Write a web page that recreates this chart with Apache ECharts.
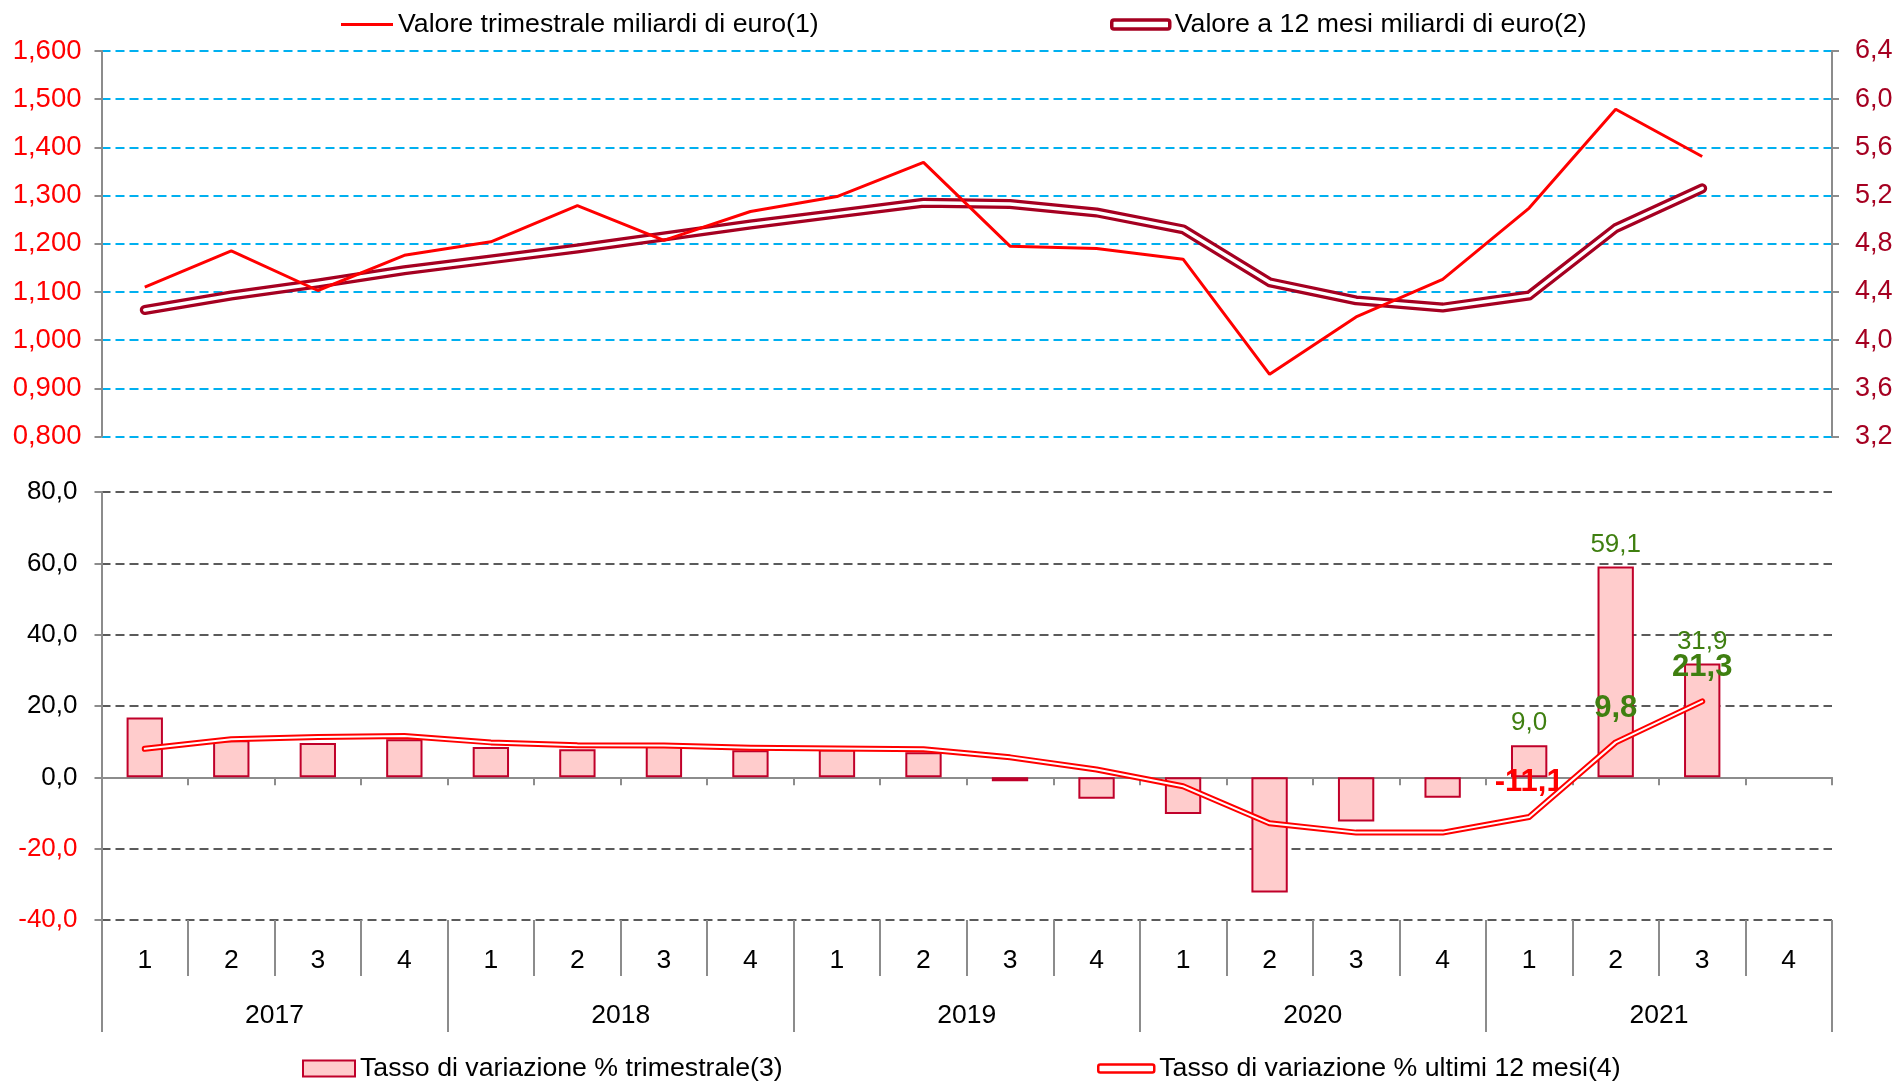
<!DOCTYPE html>
<html>
<head>
<meta charset="utf-8">
<title>Valore e tasso di variazione</title>
<script src="https://cdn.jsdelivr.net/npm/echarts@6/dist/echarts.min.js"></script>
<style>
  html, body { margin: 0; padding: 0; background: #fff; }
  #main { width: 1895px; height: 1082px; }
</style>
</head>
<body>
<div id="main"></div>
<script>
// quarters 2017Q1 .. 2021Q4
var quarters = ['1', '2', '3', '4', '1', '2', '3', '4', '1', '2', '3', '4', '1', '2', '3', '4', '1', '2', '3', '4'];
var years = ['2017', '2018', '2019', '2020', '2021'];

// top chart (miliardi di euro)
var valoreTrim = [1.110, 1.185, 1.103, 1.176, 1.204, 1.279, 1.207, 1.267, 1.298, 1.369,
  1.195, 1.190, 1.168, 0.929, 1.048, 1.126, 1.274, 1.479, 1.381, null];
var valore12 = [4.25, 4.37, 4.47, 4.58, 4.67, 4.76, 4.86, 4.96, 5.05, 5.14,
  5.13, 5.06, 4.92, 4.48, 4.33, 4.27, 4.37, 4.93, 5.26, null];

// bottom chart (%)
var tassoTrim = [16.8, 10.4, 9.6, 10.7, 8.5, 7.9, 9.3, 7.6, 7.8, 7.0,
  -1.1, -6.0, -10.3, -32.3, -12.4, -5.7, 9.0, 59.1, 31.9, null];
var tasso12 = [8.0, 10.7, 11.3, 11.6, 9.8, 9.0, 8.9, 8.3, 8.1, 7.9,
  5.6, 2.2, -2.5, -12.9, -15.5, -15.5, -11.1, 9.8, 21.3, null];

// which points carry a value label
var barLabelIdx = [16, 17, 18];
var lineLabelIdx = [16, 17, 18];

var nameTrim = 'Valore trimestrale miliardi di euro(1)';
var name12 = 'Valore a 12 mesi miliardi di euro(2)';
var nameTassoTrim = 'Tasso di variazione % trimestrale(3)';
var nameTasso12 = 'Tasso di variazione % ultimi 12 mesi(4)';

var GREEN = '#3f7f10';
var AXIS_GRAY = '#8c8c8c';

function comma(v, d) {
  return Number(v).toFixed(d).replace('.', ',');
}

var barData = tassoTrim.map(function (v, i) {
  return barLabelIdx.indexOf(i) >= 0 ? { value: v, label: { show: true } } : v;
});
var lineData = tasso12.map(function (v, i) {
  if (lineLabelIdx.indexOf(i) < 0) return v;
  return { value: v, label: { show: true, color: v < 0 ? '#ff0000' : GREEN } };
});

var myChart = echarts.init(document.getElementById('main'));

var option = {
  animation: false,
  textStyle: { fontFamily: 'Liberation Sans, Arial, sans-serif' },
  grid: [
    { left: 101.5, right: 63, top: 51, height: 385.5, outerBoundsMode: 'none' },
    { left: 101.5, right: 63, top: 492, height: 428, outerBoundsMode: 'none' }
  ],
  legend: [
    {
      left: 341, top: 11, padding: 0, selectedMode: false,
      itemWidth: 52, itemHeight: 3, itemGap: 6,
      textStyle: { fontSize: 26.7, color: '#000' },
      data: [{ name: nameTrim, icon: 'rect', itemStyle: { color: '#ff0000' } }]
    },
    {
      left: 1110, top: 11, padding: 0, selectedMode: false,
      itemWidth: 58, itemHeight: 9,
      textStyle: { fontSize: 26.7, color: '#000' },
      data: [{ name: name12, icon: 'roundRect',
        itemStyle: { color: '#fff', borderColor: '#a50021', borderWidth: 3.5 } }]
    },
    {
      left: 302, top: 1055, padding: 0, selectedMode: false,
      itemWidth: 52, itemHeight: 16,
      textStyle: { fontSize: 26.7, color: '#000' },
      data: [{ name: nameTassoTrim, icon: 'rect',
        itemStyle: { color: '#ffcccc', borderColor: '#c0002a', borderWidth: 2 } }]
    },
    {
      left: 1097, top: 1055, padding: 0, selectedMode: false,
      itemWidth: 56, itemHeight: 8,
      textStyle: { fontSize: 26.7, color: '#000' },
      data: [{ name: nameTasso12, icon: 'roundRect',
        itemStyle: { color: '#fff', borderColor: '#ff0000', borderWidth: 2.5 } }]
    }
  ],
  xAxis: [
    { gridIndex: 0, type: 'category', data: quarters, show: false },
    {
      // zero line with small ticks
      gridIndex: 1, type: 'category', data: quarters, position: 'bottom',
      axisLine: { onZero: true, lineStyle: { color: AXIS_GRAY, width: 2 } },
      axisTick: { show: true, interval: 0, length: 8, lineStyle: { color: AXIS_GRAY, width: 2 } },
      axisLabel: { show: false }
    },
    {
      // quarter labels below the chart
      gridIndex: 1, type: 'category', data: quarters, position: 'bottom',
      axisLine: { show: false, onZero: false },
      axisTick: { show: true, interval: 0, length: 56, lineStyle: { color: AXIS_GRAY, width: 2 } },
      axisLabel: { interval: 0, margin: 27, fontSize: 26.5, color: '#000' }
    },
    {
      // years
      gridIndex: 1, type: 'category', data: years, position: 'bottom',
      axisLine: { show: false, onZero: false },
      axisTick: { show: true, interval: 0, length: 112, lineStyle: { color: AXIS_GRAY, width: 2 } },
      axisLabel: { interval: 0, margin: 82, fontSize: 26.5, color: '#000' }
    }
  ],
  yAxis: [
    {
      gridIndex: 0, type: 'value', position: 'left', min: 0.8, max: 1.6, interval: 0.1,
      axisLine: { show: true, lineStyle: { color: AXIS_GRAY, width: 2 } },
      axisTick: { show: true, length: 7, lineStyle: { color: AXIS_GRAY, width: 2 } },
      axisLabel: { color: '#ff0000', fontSize: 27.5, margin: 20,
        formatter: function (v) { return comma(v, 3); } },
      splitLine: { show: true, lineStyle: { color: '#00b0f0', width: 2, type: [9, 5] } }
    },
    {
      gridIndex: 0, type: 'value', position: 'right', min: 3.2, max: 6.4, interval: 0.4,
      axisLine: { show: true, lineStyle: { color: AXIS_GRAY, width: 2 } },
      axisTick: { show: true, length: 7, lineStyle: { color: AXIS_GRAY, width: 2 } },
      axisLabel: { color: '#a50021', fontSize: 27, margin: 23,
        formatter: function (v) { return comma(v, 1); } },
      splitLine: { show: false }
    },
    {
      gridIndex: 1, type: 'value', position: 'left', min: -40, max: 80, interval: 20,
      axisLine: { show: true, lineStyle: { color: AXIS_GRAY, width: 2 } },
      axisTick: { show: true, length: 7, lineStyle: { color: AXIS_GRAY, width: 2 } },
      axisLabel: { fontSize: 26, margin: 24,
        color: function (v) { return parseFloat(v) < 0 ? '#ff0000' : '#000'; },
        formatter: function (v) { return comma(v, 1); } },
      splitLine: { show: true, lineStyle: { color: '#5a5a5a', width: 2, type: [9, 5] } }
    }
  ],
  series: [
    {
      name: name12, type: 'line', xAxisIndex: 0, yAxisIndex: 1, z: 2,
      data: valore12, showSymbol: false,
      lineStyle: { color: '#a50021', width: 10, cap: 'round', join: 'round' },
      itemStyle: { color: '#a50021' }
    },
    {
      name: name12 + ' ', type: 'line', xAxisIndex: 0, yAxisIndex: 1, z: 3,
      data: valore12, showSymbol: false, silent: true,
      lineStyle: { color: '#fff', width: 3.5, cap: 'round', join: 'round' }
    },
    {
      name: nameTrim, type: 'line', xAxisIndex: 0, yAxisIndex: 0, z: 4,
      data: valoreTrim, showSymbol: false,
      lineStyle: { color: '#ff0000', width: 3 },
      itemStyle: { color: '#ff0000' }
    },
    {
      name: nameTassoTrim, type: 'bar', xAxisIndex: 1, yAxisIndex: 2, z: 2,
      data: barData, barWidth: '42%',
      itemStyle: { color: '#ffcccc', borderColor: '#c0002a', borderWidth: 2 },
      label: { show: false, position: 'top', distance: 9, color: GREEN, fontSize: 26,
        formatter: function (p) { return comma(p.value, 1); } }
    },
    {
      name: nameTasso12, type: 'line', xAxisIndex: 1, yAxisIndex: 2, z: 3,
      data: lineData, showSymbol: true, symbol: 'circle', symbolSize: 1,
      lineStyle: { color: '#ff0000', width: 6, cap: 'round', join: 'round' },
      itemStyle: { color: '#ff0000' },
      label: { show: false, position: 'top', distance: 18, fontSize: 31, fontWeight: 'bold',
        formatter: function (p) { return comma(p.value, 1); } }
    },
    {
      name: nameTasso12 + ' ', type: 'line', xAxisIndex: 1, yAxisIndex: 2, z: 4,
      data: tasso12, showSymbol: false, silent: true,
      lineStyle: { color: '#fff', width: 2, cap: 'round', join: 'round' }
    }
  ]
};

myChart.setOption(option);
</script>
</body>
</html>
